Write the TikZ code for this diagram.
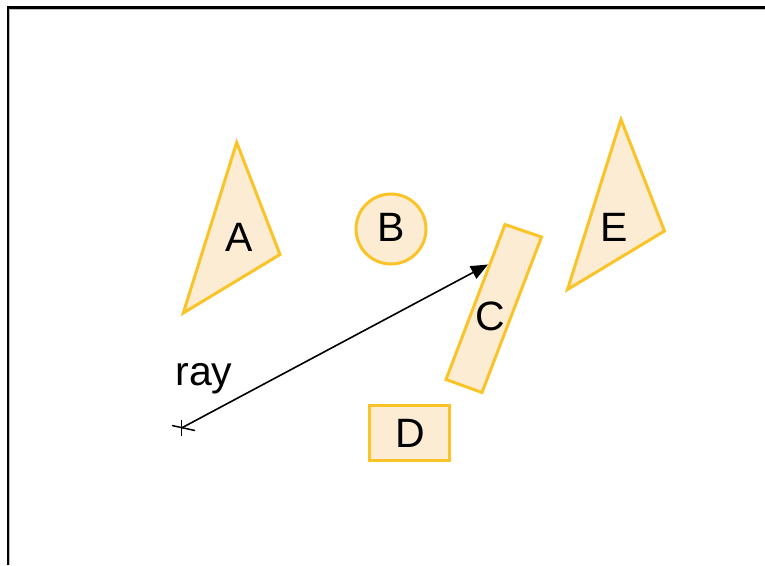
\documentclass[tikz,border=0pt]{standalone}
\usepackage{fontspec}
\setmainfont{Liberation Sans}
\usetikzlibrary{arrows.meta}
\definecolor{shapefill}{RGB}{252,236,212}
\definecolor{shapeline}{RGB}{250,196,40}
\definecolor{shadowgray}{RGB}{190,190,190}
\tikzset{
  obj/.style={draw=shapeline, fill=shapefill, line width=3pt, line join=miter},
  lbl/.style={font=\fontsize{41}{41}\selectfont, anchor=base, inner sep=0pt, text=black},
  raystyle/.style={draw=black, line width=1.6pt, -{Triangle[length=17pt,width=14pt]}}
}
\begin{document}
\begin{tikzpicture}[x=1pt,y=-1pt]
\useasboundingbox (0,0) rectangle (765,565);
% frame
\draw[shadowgray, line width=1pt] (9.6,565) -- (9.6,9.1) -- (765,9.1);
\draw[black, line width=2.4pt] (7.7,565) -- (7.7,7.3) -- (765,7.3);
% A
\draw[obj] (236.7,142.5) -- (280,254.5) -- (183.3,313) -- cycle;
\node[lbl] (A) at (239,251) {A};
% B
\draw[obj] (391,229) circle (35);
\node[lbl] (B) at (391,241.5) {B};
% C
\draw[obj] (505,224.5) -- (541.5,237) -- (482,392.5) -- (446,379.5) -- cycle;
\node[lbl] (C) at (490,330) {C};
% D
\draw[obj] (369,405.5) rectangle (449,460);
\node[lbl] (D) at (410.5,447.5) {D};
% E
\draw[obj] (621,119.5) -- (664.5,231) -- (567.5,289.5) -- cycle;
\node[lbl] (E) at (614,241.5) {E};
% ray
\coordinate (rs) at (181.5,428);
\coordinate (rt) at (488,264.5);
\draw[raystyle] (rs) -- (rt);
\draw[black, line width=1.5pt] (172,425.5) -- (195,430.5);
\draw[black, line width=1.5pt] (181.5,420) -- (181.5,436);
\node[lbl] (ray) at (204,385) {ray};
\end{tikzpicture}
\end{document}
